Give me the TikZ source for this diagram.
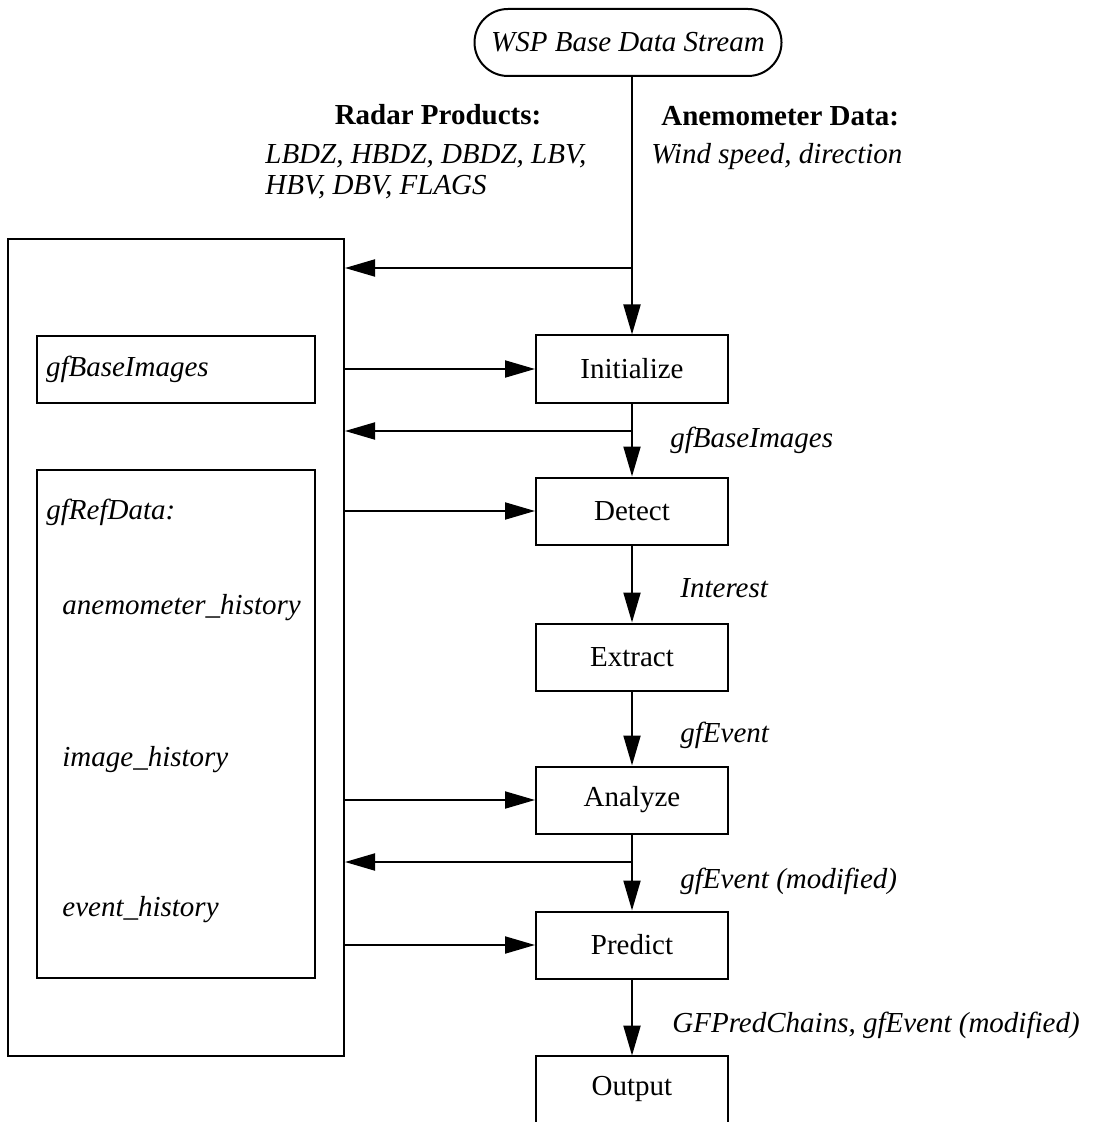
\documentclass[tikz,border=0pt]{standalone}
\usepackage{fontspec}
\setmainfont{Liberation Serif}
\usetikzlibrary{arrows.meta,shapes.misc}
\begin{document}
\begin{tikzpicture}[x=0.5pt,y=-0.5pt,
  every node/.style={font=\fontsize{14.5}{15.5}\selectfont, inner sep=0pt},
  ln/.style={line width=1pt},
  arr/.style={line width=1pt, -{Triangle[length=15pt,width=8.5pt]}},
  proc/.style={draw, line width=1pt, minimum width=96pt, minimum height=33.5pt},
  lbl/.style={anchor=base west, font=\fontsize{14.5}{15.5}\selectfont\itshape},
  hdr/.style={font=\fontsize{14.5}{15.5}\selectfont\bfseries},
]
\useasboundingbox (0,0) rectangle (1096,1122);

% source
\node[draw, line width=1pt, rounded rectangle, minimum width=153.5pt, minimum height=33.5pt,
      font=\fontsize{14.5}{15.5}\selectfont\itshape] (src) at (628,42.5) {WSP Base Data Stream};

% data headers
\node[hdr, anchor=base] (rphdr) at (438,125) {Radar Products:};
\node[lbl, align=left, anchor=base west] (rplist) at (265,195) {LBDZ, HBDZ, DBDZ, LBV,\\HBV, DBV, FLAGS};
\node[hdr, anchor=base west] (anhdr) at (661,126) {Anemometer Data:};
\node[lbl] (anlist) at (651,164) {Wind speed, direction};

% store
\node[draw, line width=1pt, minimum width=168pt, minimum height=408.5pt] (store) at (176,647.5) {};
\node[draw, line width=1pt, minimum width=139pt, minimum height=33.5pt,
      text width=130pt, inner xsep=4.5pt, align=left,
      font=\fontsize{14.5}{15.5}\selectfont\itshape] (bimg) at (176,369.5) {gfBaseImages};
\node[draw, line width=1pt, minimum width=139pt, minimum height=254pt] (ref) at (176,724) {};
\node[lbl] (reft) at (46,519) {gfRefData:};
\node[lbl] (anh) at (62,614) {anemometer\_history};
\node[lbl] (imh) at (62,766) {image\_history};
\node[lbl] (evh) at (62,916) {event\_history};

% process chain
\node[proc] (init) at (632,369) {Initialize};
\node[proc] (det)  at (632,511) {Detect};
\node[proc] (ext)  at (632,657) {Extract};
\node[proc] (ana)  at (632,800) {Analyze};
\node[proc] (pred) at (632,945) {Predict};
\node[minimum width=96pt, minimum height=33pt] (out) at (632,1089) {Output};
\draw[ln] (out.south west) -- (out.north west) -- (out.north east) -- (out.south east);

\coordinate (j1) at (632,268);
\coordinate (j2) at (632,431);
\coordinate (j3) at (632,862);

\draw[arr] (init.north |- src.south) -- (init.north);
\draw[arr] (j1) -- (store.east |- j1);
\draw[arr] (init) -- (det);
\draw[arr] (j2) -- (store.east |- j2);
\draw[arr] (det) -- (ext);
\draw[arr] (ext) -- (ana);
\draw[arr] (ana) -- (pred);
\draw[arr] (j3) -- (store.east |- j3);
\draw[arr] (pred) -- (out.north);

\draw[arr] (store.east |- init.west) -- (init.west);
\draw[arr] (store.east |- det.west) -- (det.west);
\draw[arr] (store.east |- ana.west) -- (ana.west);
\draw[arr] (store.east |- pred.west) -- (pred.west);

% flow labels
\node[lbl] (l1) at (670,447) {gfBaseImages};
\node[lbl] (l2) at (680,597) {Interest};
\node[lbl] (l3) at (680,742) {gfEvent};
\node[lbl] (l4) at (680,888) {gfEvent (modified)};
\node[lbl] (l5) at (672,1032) {GFPredChains, gfEvent (modified)};
\end{tikzpicture}
\end{document}
